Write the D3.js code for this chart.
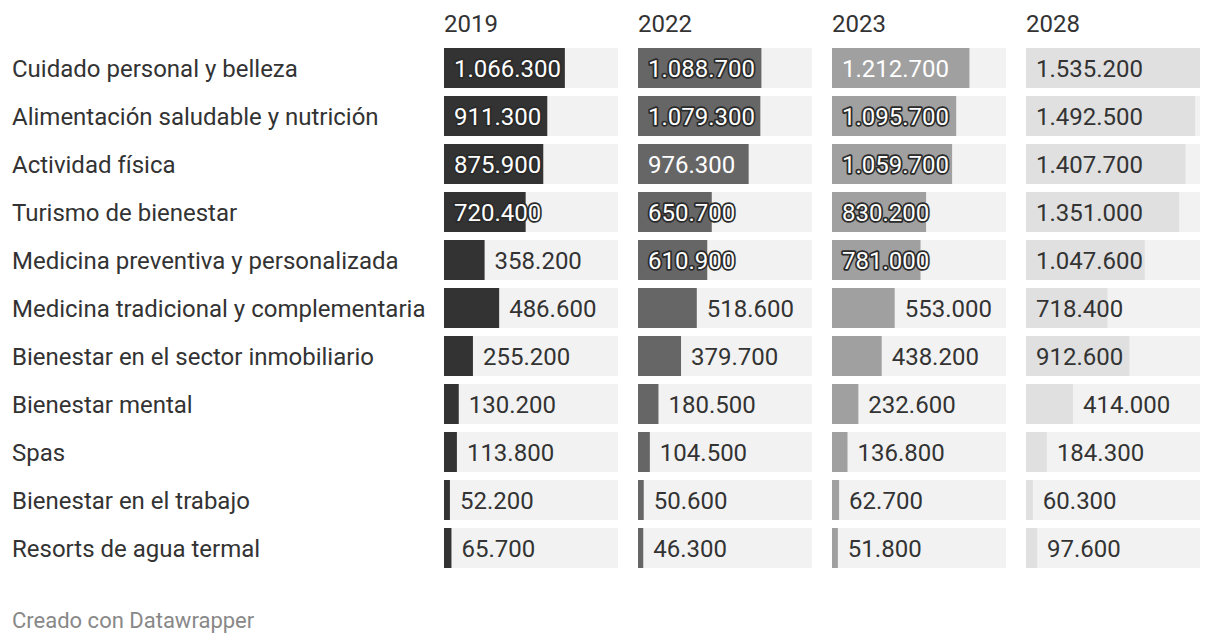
<!DOCTYPE html>
<html>
<head>
<meta charset="utf-8">
<script src="https://cdn.jsdelivr.net/npm/d3@7"></script>
<style>
  html, body { margin: 0; padding: 0; background: #fff; }
  svg { display: block; font-family: Roboto, "Noto Sans", sans-serif; }
</style>
</head>
<body>
<svg id="chart" width="1220" height="644"></svg>
<script>
const categories = [
  "Cuidado personal y belleza",
  "Alimentación saludable y nutrición",
  "Actividad física",
  "Turismo de bienestar",
  "Medicina preventiva y personalizada",
  "Medicina tradicional y complementaria",
  "Bienestar en el sector inmobiliario",
  "Bienestar mental",
  "Spas",
  "Bienestar en el trabajo",
  "Resorts de agua termal"
];
const years = ["2019", "2022", "2023", "2028"];
const v2019 = [1066300, 911300, 875900, 720400, 358200, 486600, 255200, 130200, 113800, 52200, 65700];
const v2022 = [1088700, 1079300, 976300, 650700, 610900, 518600, 379700, 180500, 104500, 50600, 46300];
const v2023 = [1212700, 1095700, 1059700, 830200, 781000, 553000, 438200, 232600, 136800, 62700, 51800];
const v2028 = [1535200, 1492500, 1407700, 1351000, 1047600, 718400, 912600, 414000, 184300, 60300, 97600];
const footer = "Creado con Datawrapper";

const series = [v2019, v2022, v2023, v2028];
const barColors = ["#333333", "#666666", "#a0a0a0", "#e0e0e0"];
const insideText = ["#ffffff", "#ffffff", "#ffffff", "#333333"];
const bgColor = "#f2f2f2";
const textColor = "#333333";
const fontSize = 24;

const locale = d3.formatLocale({decimal: ",", thousands: ".", grouping: [3], currency: ["", ""]});
const fmt = locale.format(",d");

const svg = d3.select("#chart");
svg.append("rect").attr("width", 1220).attr("height", 644).attr("fill", "#fff");

const col = d3.scaleBand().domain(years).range([444, 1200]).paddingInner(20 / 194).paddingOuter(0);
const row = d3.scaleBand().domain(categories).range([48, 568]).paddingInner(8 / 48).paddingOuter(0);
const maxV = d3.max(series.flat());
const x = d3.scaleLinear().domain([0, maxV]).range([0, col.bandwidth()]);

const capH = fontSize * 0.711;

// headers
svg.selectAll("text.year").data(years).join("text")
  .attr("class", "year")
  .attr("x", d => col(d))
  .attr("y", 32)
  .attr("font-size", fontSize)
  .attr("fill", textColor)
  .text(d => d);

// row labels
svg.selectAll("text.cat").data(categories).join("text")
  .attr("class", "cat")
  .attr("x", 12)
  .attr("y", d => row(d) + row.bandwidth() / 2 + capH / 2)
  .attr("font-size", fontSize)
  .attr("fill", textColor)
  .text(d => d);

years.forEach((yr, si) => {
  const g = svg.append("g").attr("transform", `translate(${col(yr)},0)`);
  const data = categories.map((c, i) => ({c, v: series[si][i]}));
  g.selectAll("rect.bg").data(data).join("rect")
    .attr("class", "bg")
    .attr("x", 0).attr("y", d => row(d.c))
    .attr("width", col.bandwidth()).attr("height", row.bandwidth())
    .attr("fill", bgColor);
  g.selectAll("rect.bar").data(data).join("rect")
    .attr("class", "bar")
    .attr("x", 0).attr("y", d => row(d.c))
    .attr("width", d => x(d.v)).attr("height", row.bandwidth())
    .attr("fill", barColors[si]);
  g.selectAll("text.val").data(data).join("text")
    .attr("class", "val")
    .attr("y", d => row(d.c) + row.bandwidth() / 2 + capH / 2)
    .attr("font-size", fontSize)
    .text(d => fmt(d.v))
    .each(function(d) {
      const w = this.getComputedTextLength();
      const bw = x(d.v);
      const sel = d3.select(this);
      if (bw >= 66) {
        sel.attr("x", 10).attr("fill", insideText[si]);
        if (si < 3 && 10 + w + 12 > bw) {
          sel.attr("stroke", "#2a2a2a").attr("stroke-width", 3.5)
             .attr("stroke-linejoin", "round").attr("paint-order", "stroke");
        }
      } else {
        sel.attr("x", bw + 10).attr("fill", textColor);
      }
    });
});

svg.append("text")
  .attr("x", 12).attr("y", 628)
  .attr("font-size", 22)
  .attr("fill", "#888888")
  .text(footer);
</script>
</body>
</html>
